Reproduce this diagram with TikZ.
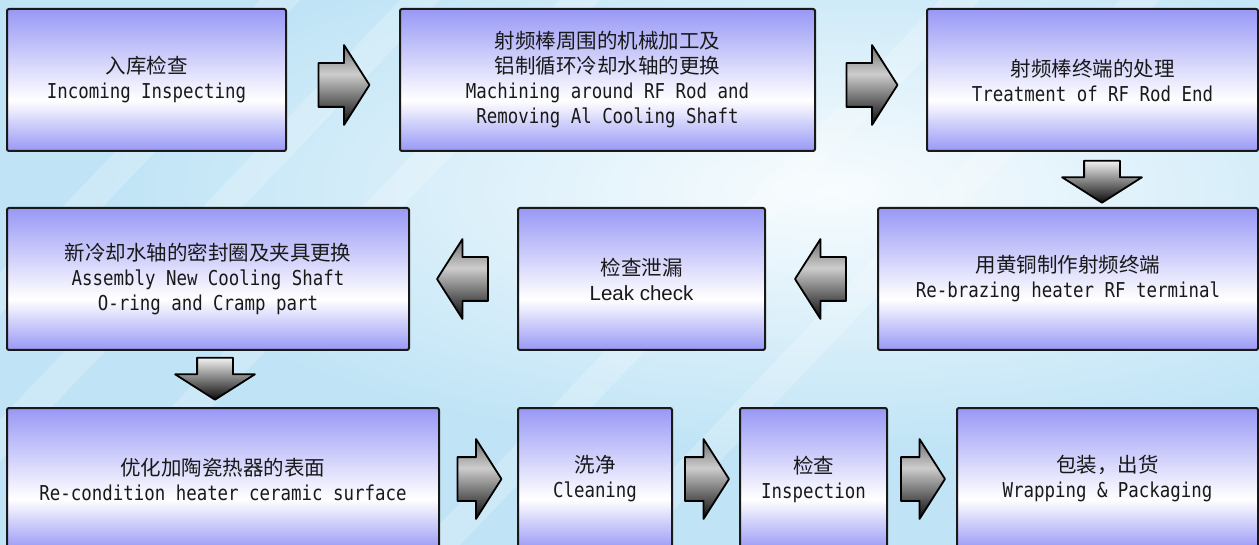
\documentclass[tikz,border=0pt]{standalone}
\usepackage{fontspec}
\setmainfont{DejaVu Sans Mono}[FakeStretch=0.85]
\newfontfamily\zh{Noto Sans CJK SC}
\newfontfamily\arialfont{Liberation Sans}
\usepackage{tikz}
\usetikzlibrary{shapes.arrows, positioning}
\definecolor{bgblue}{RGB}{192,228,246}
\definecolor{bglight}{RGB}{248,252,254}
\definecolor{boxblue}{RGB}{152,152,246}
\definecolor{arrowtop}{RGB}{110,110,110}
\definecolor{arrowlight}{RGB}{205,205,205}
\definecolor{arrowdark}{RGB}{10,10,10}
\definecolor{arrowpale}{RGB}{242,242,242}

\pgfdeclareverticalshading{stepshade}{100bp}{color(0bp)=(boxblue); color(25bp)=(boxblue); color(43bp)=(white); color(75bp)=(boxblue); color(100bp)=(boxblue)}
\pgfdeclareverticalshading{sideshade}{100bp}{color(0bp)=(arrowdark); color(25bp)=(arrowdark); color(57bp)=(arrowlight); color(75bp)=(arrowtop); color(100bp)=(arrowtop)}
\pgfdeclareverticalshading{downshade}{100bp}{color(0bp)=(arrowdark); color(25bp)=(arrowdark); color(75bp)=(arrowpale); color(100bp)=(arrowpale)}

\begin{document}
\begin{tikzpicture}[
  x=1pt, y=-1pt,
  node distance=110pt,
  stepbox/.style={draw=black!90, line width=2pt, rounded corners=2pt, shade, shading=stepshade,
                  anchor=north west, inner sep=0pt, outer sep=0pt, align=center, text=black!90,
                  minimum height=142pt, font=\fontsize{20.5}{25}\selectfont},
  blockarrow/.style={single arrow, draw=black, line width=1.8pt, line join=round,
                     single arrow tip angle=115, inner sep=0pt, shade},
  sidearrow/.style={blockarrow, shading=sideshade, inner ysep=21pt,
                    single arrow head extend=18pt},
  rightarrow/.style={sidearrow, xshift=-6pt},
  leftarrow/.style={sidearrow, shape border rotate=180, xshift=6pt},
  downarrow/.style={blockarrow, shading=downshade, shape border rotate=270,
                    inner xsep=17pt, single arrow head extend=22pt, minimum height=42pt}
]
\useasboundingbox (0,0) rectangle (1259,545);
\clip (0,0) rectangle (1259,545);

% ===== background =====
\fill[bgblue] (0,0) rectangle (1259,545);
\shade[inner color=bglight, outer color=bgblue] (830,190) ellipse (720 and 260);
\foreach \sx in {-260,-120,40,420,600}
  \fill[white, opacity=.22] (\sx,545) -- (\sx+40,545) -- (\sx+560,0) -- (\sx+520,0) -- cycle;

% ===== row 1 =====
\node[stepbox, minimum width=279pt] (b1) at (7,9)
  {{\zh 入库检查}\\Incoming Inspecting};
\node[stepbox, minimum width=415pt, right=114pt of b1] (b2)
  {{\zh 射频棒周围的机械加工及}\\{\zh 铝制循环冷却水轴的更换}\\Machining around RF Rod and\\Removing Al Cooling Shaft};
\node[stepbox, minimum width=331pt, right=112pt of b2] (b3)
  {{\zh 射频棒终端的处理}\\Treatment of RF Rod End};

% ===== row 2 =====
\node[stepbox, minimum width=402pt] (b4) at (7,208)
  {{\zh 新冷却水轴的密封圈及夹具更换}\\Assembly New Cooling Shaft\\O-ring and Cramp part};
\node[stepbox, minimum width=247pt, right=109pt of b4] (b5)
  {{\zh 检查泄漏}\\{\arialfont Leak check}};
\node[stepbox, minimum width=380pt, right=113pt of b5] (b6)
  {{\zh 用黄铜制作射频终端}\\Re-brazing heater RF terminal};

% ===== row 3 =====
\node[stepbox, minimum width=432pt] (b7) at (7,408)
  {{\zh 优化加陶瓷热器的表面}\\Re-condition heater ceramic surface};
\node[stepbox, minimum width=154pt, right=79pt of b7] (b8)
  {{\zh 洗净}\\Cleaning};
\node[stepbox, minimum width=147pt, right=68pt of b8] (b9)
  {{\zh 检查}\\Inspection};
\node[stepbox, minimum width=301pt, right=70pt of b9] (b10)
  {{\zh 包装，出货}\\Wrapping \& Packaging};

% ===== block arrows =====
\path (b1) -- (b2) node[rightarrow, minimum height=51pt, midway, yshift=-5pt] (a12) {};
\path (b2) -- (b3) node[rightarrow, minimum height=51pt, midway, yshift=-5pt] (a23) {};
\node[downarrow] (a36) at (1102,176) {};
\path (b6) -- (b5) node[leftarrow, minimum height=51pt, midway] (a65) {};
\path (b5) -- (b4) node[leftarrow, minimum height=51pt, midway] (a54) {};
\node[downarrow] (a47) at (215,373) {};
\path (b7) -- (b8) node[rightarrow, minimum height=44pt, midway] (a78) {};
\path (b8) -- (b9) node[rightarrow, minimum height=44pt, midway] (a89) {};
\path (b9) -- (b10) node[rightarrow, minimum height=44pt, midway] (a910) {};

\end{tikzpicture}
\end{document}
